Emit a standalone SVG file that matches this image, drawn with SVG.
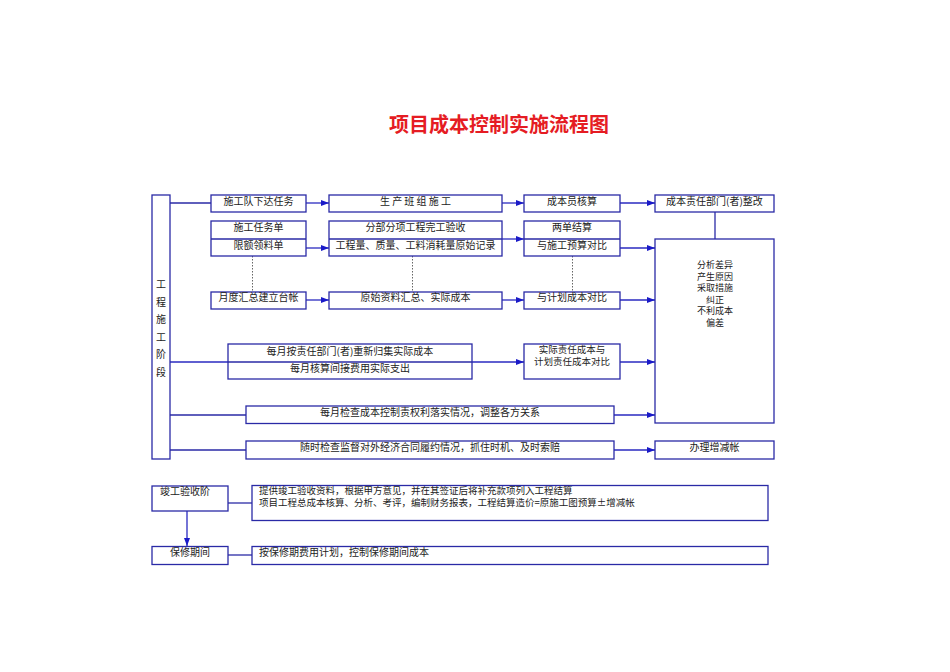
<svg xmlns="http://www.w3.org/2000/svg" width="950" height="672" viewBox="0 0 950 672">
<defs>
<marker id="ah" viewBox="0 0 8 6" refX="8" refY="3" markerWidth="8" markerHeight="6" markerUnits="userSpaceOnUse" orient="auto">
<path d="M0,0 L8,3 L0,6 z" fill="#1a1ac8"/>
</marker>
</defs>
<style>
.b{fill:#fff;stroke:#2a2aa6;stroke-width:1.3}
.l{fill:none;stroke:#2a2aa6;stroke-width:1.3}
.a{fill:none;stroke:#2a2ac0;stroke-width:1.3;marker-end:url(#ah)}
.d{fill:none;stroke:#666;stroke-width:1;stroke-dasharray:1.5,1.5}
text{font-family:"Noto Sans CJK SC","Liberation Sans",sans-serif;font-size:10px;fill:#222}
.c{text-anchor:middle}
.s{font-size:9px}
.m{font-size:9.5px}
.t{font-size:20px;font-weight:bold;fill:#e51c23}
</style>
<rect width="950" height="672" fill="#fff"/>
<text class="t c" x="499" y="132">项目成本控制实施流程图</text>

<g id="connectors">
<line class="l" x1="170" y1="203" x2="211" y2="203"/>
<line class="a" x1="306" y1="203" x2="329" y2="203"/>
<line class="a" x1="502" y1="203" x2="524" y2="203"/>
<line class="a" x1="620" y1="203" x2="655" y2="203"/>
<line class="l" x1="715" y1="212" x2="715" y2="239"/>
<line class="a" x1="306" y1="248" x2="329" y2="248"/>
<line class="a" x1="502" y1="239" x2="524" y2="239"/>
<line class="a" x1="620" y1="248" x2="655" y2="248"/>
<line class="d" x1="252.5" y1="256" x2="252.5" y2="292"/>
<line class="d" x1="412.5" y1="256" x2="412.5" y2="292"/>
<line class="d" x1="572.5" y1="256" x2="572.5" y2="292"/>
<line class="a" x1="306" y1="300" x2="329" y2="300"/>
<line class="a" x1="502" y1="300" x2="524" y2="300"/>
<line class="a" x1="620" y1="300" x2="655" y2="300"/>
<line class="a" x1="170" y1="362" x2="524" y2="362"/>
<line class="a" x1="620" y1="362" x2="655" y2="362"/>
<line class="l" x1="170" y1="415" x2="246" y2="415"/>
<line class="a" x1="614" y1="415" x2="655" y2="415"/>
<line class="l" x1="170" y1="450" x2="246" y2="450"/>
<line class="a" x1="614" y1="450" x2="655" y2="450"/>
<line class="l" x1="228" y1="503" x2="252" y2="503"/>
<line class="a" x1="187" y1="511" x2="187" y2="546"/>
<line class="l" x1="228" y1="555" x2="252" y2="555"/>
</g>

<g id="stage">
<rect class="b" x="152" y="195" width="18" height="264"/>
<text class="c" x="161" y="288">工</text>
<text class="c" x="161" y="305.5">程</text>
<text class="c" x="161" y="323">施</text>
<text class="c" x="161" y="340.5">工</text>
<text class="c" x="161" y="358">阶</text>
<text class="c" x="161" y="375.5">段</text>
</g>

<g id="n1"><rect class="b" x="211" y="195" width="95" height="17"/><text class="c" x="258.5" y="204.5">施工队下达任务</text></g>
<g id="n2"><rect class="b" x="329" y="195" width="173" height="17"/><text class="c" x="415.5" y="204.5">生 产 班 组 施 工</text></g>
<g id="n3"><rect class="b" x="524" y="195" width="96" height="17"/><text class="c" x="572" y="204.5">成本员核算</text></g>
<g id="n4"><rect class="b" x="655" y="195" width="119" height="17"/><text class="c" x="714.5" y="204.5">成本责任部门(者)整改</text></g>

<g id="n5"><rect class="b" x="211" y="221" width="95" height="35"/><line class="l" x1="211" y1="239" x2="306" y2="239"/><text class="c" x="258.5" y="231">施工任务单</text><text class="c" x="258.5" y="248.5">限额领料单</text></g>
<g id="n6"><rect class="b" x="329" y="221" width="173" height="35"/><line class="l" x1="329" y1="239" x2="502" y2="239"/><text class="c" x="415.5" y="231">分部分项工程完工验收</text><text class="c" x="415.5" y="248.5">工程量、质量、工料消耗量原始记录</text></g>
<g id="n7"><rect class="b" x="524" y="221" width="96" height="35"/><line class="l" x1="524" y1="239" x2="620" y2="239"/><text class="c" x="572" y="231">两单结算</text><text class="c" x="572" y="248.5">与施工预算对比</text></g>

<g id="n8"><rect class="b" x="655" y="239" width="119" height="184"/>
<text class="c s" x="715" y="268">分析差异</text>
<text class="c s" x="715" y="279.5">产生原因</text>
<text class="c s" x="715" y="291">采取措施</text>
<text class="c s" x="715" y="302.5">纠正</text>
<text class="c s" x="715" y="314">不利成本</text>
<text class="c s" x="715" y="325.5">偏差</text>
</g>

<g id="n9"><rect class="b" x="211" y="292" width="95" height="17"/><text class="c" x="258.5" y="301">月度汇总建立台帐</text></g>
<g id="n10"><rect class="b" x="329" y="292" width="173" height="17"/><text class="c" x="415.5" y="301">原始资料汇总、实际成本</text></g>
<g id="n11"><rect class="b" x="524" y="292" width="96" height="17"/><text class="c" x="572" y="301">与计划成本对比</text></g>

<g id="n12"><rect class="b" x="228" y="344" width="244" height="35"/><line class="l" x1="228" y1="362" x2="472" y2="362"/><text class="c" x="350" y="354.5">每月按责任部门(者)重新归集实际成本</text><text class="c" x="350" y="372">每月核算间接费用实际支出</text></g>
<g id="n13"><rect class="b" x="524" y="344" width="96" height="35"/><text class="c m" x="572" y="353">实际责任成本与</text><text class="c m" x="572" y="365.2">计划责任成本对比</text></g>

<g id="n14"><rect class="b" x="246" y="406" width="368" height="17.5"/><text class="c" x="430" y="416">每月检查成本控制责权利落实情况，调整各方关系</text></g>
<g id="n15"><rect class="b" x="246" y="441" width="368" height="18"/><text class="c" x="430" y="450.5">随时检查监督对外经济合同履约情况，抓住时机、及时索赔</text></g>
<g id="n16"><rect class="b" x="655" y="441" width="119" height="18"/><text class="c" x="714.5" y="450.5">办理增减帐</text></g>

<g id="n17"><rect class="b" x="152" y="486" width="76" height="25"/><text x="160" y="495">竣工验收阶</text></g>
<g id="n18"><rect class="b" x="252" y="485.5" width="516" height="35"/><text class="m" x="259" y="494">提供竣工验收资料，根据甲方意见，并在其签证后将补充款项列入工程结算</text><text class="m" x="259" y="506.2">项目工程总成本核算、分析、考评，编制财务报表，工程结算造价=原施工图预算±增减帐</text></g>
<g id="n19"><rect class="b" x="152" y="546.5" width="76" height="18"/><text class="c" x="190" y="556">保修期间</text></g>
<g id="n20"><rect class="b" x="252" y="546.5" width="516" height="18"/><text x="259" y="556">按保修期费用计划，控制保修期间成本</text></g>
</svg>
